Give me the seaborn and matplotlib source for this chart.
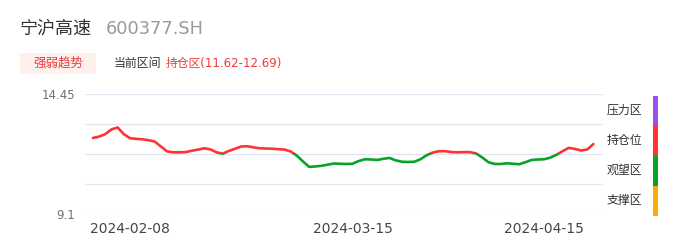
import numpy as np
import pandas as pd
import matplotlib
matplotlib.use("Agg")
import matplotlib.pyplot as plt
import matplotlib.dates as mdates
from matplotlib.patches import Rectangle
import seaborn as sns

# ---------------- data ----------------
title_name = "宁沪高速"
title_code = "600377.SH"
badge_text = "强弱趋势"
range_label = "当前区间"
range_value = "持仓区(11.62-12.69)"

start_date = "2024-02-02"
end_date = "2024-04-23"
values = [
    12.49, 12.55, 12.66, 12.87, 12.96, 12.66, 12.48, 12.45, 12.43, 12.39,
    12.33, 12.11, 11.89, 11.85, 11.85, 11.86, 11.92, 11.97, 12.03, 11.98,
    11.85, 11.79, 11.91, 12.01, 12.11, 12.12, 12.07, 12.03, 12.02, 12.01,
    11.99, 11.97, 11.89, 11.70, 11.44, 11.20, 11.22, 11.25, 11.30, 11.35,
    11.34, 11.33, 11.34, 11.46, 11.54, 11.53, 11.51, 11.56, 11.60, 11.49,
    11.43, 11.42, 11.43, 11.54, 11.72, 11.84, 11.90, 11.90, 11.86, 11.85,
    11.86, 11.86, 11.80, 11.62, 11.41, 11.33, 11.33, 11.36, 11.34, 11.32,
    11.41, 11.51, 11.53, 11.54, 11.61, 11.74, 11.90, 12.05, 12.00, 11.93,
    11.98, 12.22,
]
dates = pd.date_range(start_date, end_date, freq="D")

y_min, y_max = 9.1, 14.45
y_ticks = list(np.linspace(y_min, y_max, 5))
y_tick_labels = ["9.1", "", "", "", "14.45"]
x_tick_dates = ["2024-02-08", "2024-03-15", "2024-04-15"]

zone_names = ["压力区", "持仓位", "观望区", "支撑区"]
zone_colors = ["#9d4df2", "#ff3333", "#08a22b", "#ffaa00"]
line_threshold = 11.80
red = "#ff3333"
green = "#08a22b"

df = pd.DataFrame({"date": dates, "value": values})

# ---------------- figure ----------------
sns.set_theme(style="white")
plt.rcParams["font.family"] = ["DejaVu Sans", "Noto Sans CJK SC"]

W, H = 686, 247
fig = plt.figure(figsize=(W / 100, H / 100), dpi=100)
ax = fig.add_axes([85 / W, (H - 214) / H, 518 / W, 120 / H])

sns.lineplot(data=df, x="date", y="value", ax=ax, color=red, lw=1.9)
sns.lineplot(data=df, x="date", y="value", ax=ax, color=green, lw=1.9)
red_line, green_line = ax.get_lines()[0], ax.get_lines()[1]

base = pd.Timestamp("2024-02-08")
x0 = mdates.date2num(base - pd.Timedelta(days=7.28))
x1 = mdates.date2num(base + pd.Timedelta(days=76.54))
ax.set_xlim(x0, x1)
ax.set_ylim(y_min, y_max)

clip_red = Rectangle((x0 - 100, line_threshold), 400, 100, transform=ax.transData)
clip_green = Rectangle((x0 - 100, line_threshold - 100), 400, 100, transform=ax.transData)
red_line.set_clip_path(clip_red)
green_line.set_clip_path(clip_green)
red_line.set_solid_capstyle("round")
green_line.set_solid_capstyle("round")
red_line.set_solid_joinstyle("round")
green_line.set_solid_joinstyle("round")

ax.set_yticks(y_ticks)
ax.set_yticklabels(y_tick_labels)
ax.set_xticks([mdates.date2num(pd.Timestamp(d)) for d in x_tick_dates])
ax.set_xticklabels(x_tick_dates)
ax.tick_params(axis="y", length=0, pad=7, labelsize=8.5, labelcolor="#6e7079")
ax.tick_params(axis="x", length=0, pad=6, labelsize=10, labelcolor="#464646")
ax.grid(axis="y", color="#e0e6f1", lw=0.9)
ax.grid(axis="x", visible=False)
for s in ax.spines.values():
    s.set_visible(False)
ax.set_xlabel("")
ax.set_ylabel("")
ax.set_axisbelow(True)

# ---------------- header texts ----------------
def fx(px):
    return px / W

def fy(py):
    return 1 - py / H

fig.text(fx(20), fy(29), title_name, fontsize=13, color="#333333",
         va="center", ha="left", family=["Noto Sans CJK SC", "DejaVu Sans"])
fig.text(fx(106), fy(29), title_code, fontsize=12.8, color="#999999",
         va="center", ha="left")

fig.patches.append(Rectangle((fx(20), fy(74)), fx(96) - fx(20), fy(53) - fy(74),
                             transform=fig.transFigure, facecolor="#fef0ed",
                             edgecolor="none"))
fig.text(fx(58), fy(63), badge_text, fontsize=9, color="#f03a3a",
         va="center", ha="center", family=["Noto Sans CJK SC", "DejaVu Sans"])
fig.text(fx(114), fy(63), range_label, fontsize=8.6, color="#333333",
         va="center", ha="left", family=["Noto Sans CJK SC", "DejaVu Sans"])
fig.text(fx(166), fy(63), range_value, fontsize=8.5, color="#f03a3a",
         va="center", ha="left", family=["DejaVu Sans", "Noto Sans CJK SC"])

# ---------------- zone legend ----------------
bar_top = 96
seg = 30
for i, (name, col) in enumerate(zip(zone_names, zone_colors)):
    top = bar_top + i * seg
    fig.patches.append(Rectangle((fx(653), fy(top + seg)), fx(5), seg / H,
                                 transform=fig.transFigure, facecolor=col,
                                 edgecolor="none"))
    fig.text(fx(607), fy(top + seg / 2 - 0.5), name, fontsize=8.6, color="#333333",
             va="center", ha="left", family=["Noto Sans CJK SC", "DejaVu Sans"])

fig.savefig("out.png", dpi=100)
